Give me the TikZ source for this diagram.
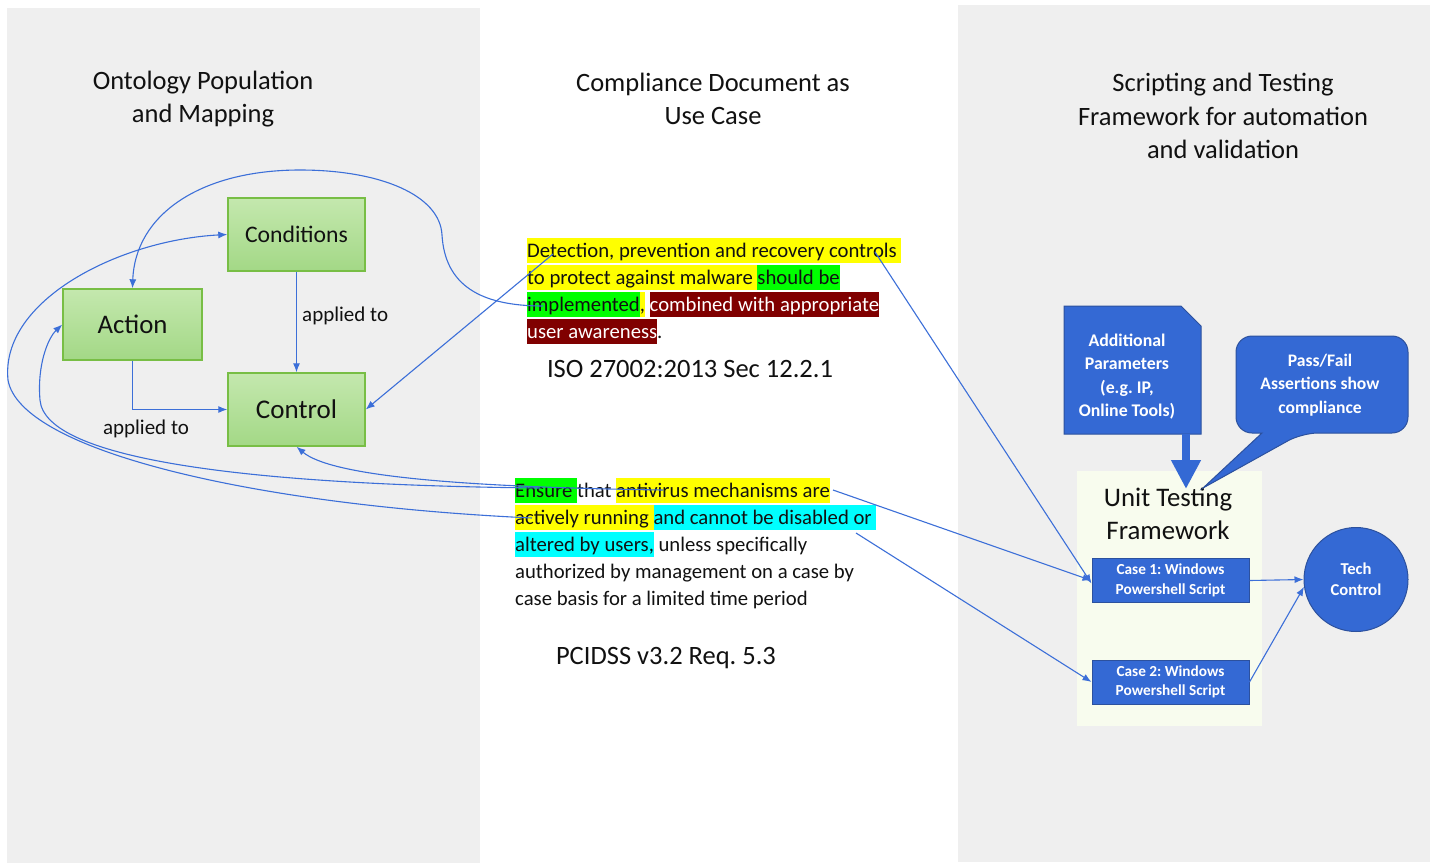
\documentclass[tikz,border=0pt]{standalone}
\usepackage{fontspec}
\setmainfont{Carlito}
\usetikzlibrary{arrows.meta,shapes.geometric,calc}
\definecolor{panel}{HTML}{EFEFEF}
\definecolor{utfbg}{HTML}{F8FCEE}
\definecolor{bluefill}{HTML}{3469D4}
\definecolor{blueborder}{HTML}{2C519E}
\definecolor{lineblue}{HTML}{3C6FD8}
\definecolor{gtop}{HTML}{C4E8AE}
\definecolor{gbot}{HTML}{A3D886}
\definecolor{gborder}{HTML}{78BE45}
\definecolor{hlyellow}{HTML}{FFFF00}
\definecolor{hlgreen}{HTML}{00FF00}
\definecolor{hlcyan}{HTML}{00FFFF}
\definecolor{hlred}{HTML}{800000}
\definecolor{txt}{HTML}{111111}
\newcommand\hlb[2]{{\setlength{\fboxsep}{0pt}\colorbox{#1}{\rule[-6pt]{0pt}{25pt}#2}}}
\frenchspacing
\begin{document}
\begin{tikzpicture}[x=1pt,y=-1pt,
  conn/.style={draw=lineblue, line width=1.1pt, -{Latex[length=9pt,width=7pt]}},
  gbox/.style={draw=gborder, line width=1.4pt, top color=gtop, bottom color=gbot, inner sep=0, text=txt},
  title/.style={align=center, text=txt, font=\fontsize{26.5}{33.5}\selectfont},
  body/.style={anchor=base west, inner sep=0, text=txt, font=\fontsize{20.7}{27}\selectfont},
  lbl/.style={text=txt, font=\fontsize{21}{24}\selectfont, inner sep=0},
  caseb/.style={draw=blueborder, fill=bluefill, line width=1pt, text=white, font=\bfseries\fontsize{15.3}{19.5}\selectfont, minimum width=157pt, minimum height=44pt, align=center, inner sep=0},
  wtxt/.style={text=white, align=center, inner sep=0}
]
\useasboundingbox (0,0) rectangle (1437,865);
\fill[white] (0,0) rectangle (1437,865);
% panels
\fill[panel] (7,8) rectangle (480,863);
\fill[panel] (958,5) rectangle (1430,862);

% titles
\node[title] (t1) at (203,99) {Ontology Population\\and Mapping};
\node[title] (t2) at (713,99) {Compliance Document as\\Use Case};
\node[title] (t3) at (1223,116) {Scripting and Testing\\Framework for automation\\and validation};

% ontology nodes
\node[gbox, minimum width=137pt, minimum height=73pt, font=\fontsize{23.7}{26}\selectfont] (cond) at (296.5,234.5) {Conditions};
\node[gbox, minimum width=139pt, minimum height=71pt, font=\fontsize{26.8}{30}\selectfont] (action) at (132.5,324.5) {Action};
\node[gbox, minimum width=137pt, minimum height=73pt, font=\fontsize{27}{30}\selectfont] (control) at (296.5,409.5) {Control};

\draw[conn] (cond.south) -- (control.north);
\node[lbl, anchor=west] (ap1) at (302,316) {applied to};
\draw[conn] (action.south) |- (control.west);
\node[lbl] (ap2) at (146,429) {applied to};

% ISO text
\node[body] (i1) at (527,257) {\hlb{hlyellow}{Detection, prevention and recovery controls }};
\node[body] (i2) at (527,284) {\hlb{hlyellow}{to protect against malware }\hlb{hlgreen}{should be}};
\node[body] (i3) at (527,311) {\hlb{hlgreen}{implemented}\hlb{hlyellow}{,} \hlb{hlred}{\color{white}combined with appropriate}};
\node[body] (i4) at (527,338) {\hlb{hlred}{\color{white}user awareness}.};
\node[lbl, font=\fontsize{26.5}{30}\selectfont] (iso) at (690,369) {ISO 27002:2013 Sec 12.2.1};

% PCI text
\node[body] (p1) at (515,497) {\hlb{hlgreen}{Ensure }that \hlb{hlyellow}{antivirus mechanisms are}};
\node[body] (p2) at (515,524) {\hlb{hlyellow}{actively running }\hlb{hlcyan}{and cannot be disabled or }};
\node[body] (p3) at (515,551) {\hlb{hlcyan}{altered by users,} unless specifically};
\node[body] (p4) at (515,578) {authorized by management on a case by};
\node[body] (p5) at (515,605) {case basis for a limited time period};
\node[lbl, font=\fontsize{26.5}{30}\selectfont] (pci) at (666,658) {PCIDSS v3.2 Req. 5.3};

% right side
\fill[utfbg] (1077,471) rectangle (1262,726);
\node[title, font=\fontsize{26.8}{33}\selectfont] (utf) at (1168,514) {Unit Testing\\Framework};
\node[caseb] (case1) at (1170.5,580.5) {Case 1: Windows\\Powershell Script};
\node[caseb] (case2) at (1170.5,682) {Case 2: Windows\\Powershell Script};
\node[circle, draw=blueborder, fill=bluefill, line width=1pt, minimum size=104pt, inner sep=0, text=white, align=center, font=\bfseries\fontsize{16.6}{21}\selectfont] (tech) at (1356,579.5) {Tech\\Control};

% additional parameters
\filldraw[fill=bluefill, draw=blueborder, line width=1pt] (1064,306) -- (1181,306) -- (1201,326) -- (1201,434) -- (1064,434) -- cycle;
\node[wtxt, font=\bfseries\fontsize{17.8}{23.2}\selectfont] (addp) at (1127,376.5) {Additional\\Parameters\\(e.g. IP,\\Online Tools)};
\coordinate (abase) at (1186,434);
\coordinate (atip) at (1186,489);
\draw[bluefill, line width=8.5pt, -{Triangle[length=29pt,width=28pt]}] (abase) -- (atip);

% pass/fail callout
\filldraw[fill=bluefill, draw=blueborder, line width=1pt, rounded corners=16pt]
  (1320,336) -- (1408,336) -- (1408,433) -- (1302,433) [sharp corners] -- (1203,488) -- (1262,433) [rounded corners=16pt] -- (1236,433) -- (1236,336) -- cycle;
\node[wtxt, font=\bfseries\fontsize{17.6}{23.5}\selectfont] (pf) at (1320,385) {Pass/Fail\\Assertions show\\compliance};

% connectors
\draw[conn] (case1.east) -- (tech.west);
\draw[conn] (case2.east) -- (tech.188);

\coordinate (sD) at (553,254);
\coordinate (sI) at (543,306);
\coordinate (sE) at (875,252);
\coordinate (sC) at (663,490);
\coordinate (sB) at (540,488);
\coordinate (sA) at (532,518);
\coordinate (sF) at (833,490);
\coordinate (sG) at (856,533);

\draw[conn] (sD) -- (control.east);
\draw[conn] (sI) .. controls (480,306) and (445,285) .. (442,235)
   .. controls (440,195) and (380,170) .. (300,170)
   .. controls (200,170) and (135,215) .. (action.north);
\draw[conn] (sE) -- ([yshift=-3pt]case1.west);
\draw[conn] (sF) -- (case1.west);
\draw[conn] (sG) -- (case2.west);
\draw[conn] (sC) .. controls (450,487) and (330,475) .. (control.south);
\draw[conn] (sB) .. controls (250,485) and (45,460) .. (40,400)
   .. controls (37,365) and (48,338) .. (action.west);
\draw[conn] (sA) .. controls (250,505) and (20,450) .. (8,380)
   .. controls (0,300) and (120,240) .. (cond.west);
\end{tikzpicture}
\end{document}
